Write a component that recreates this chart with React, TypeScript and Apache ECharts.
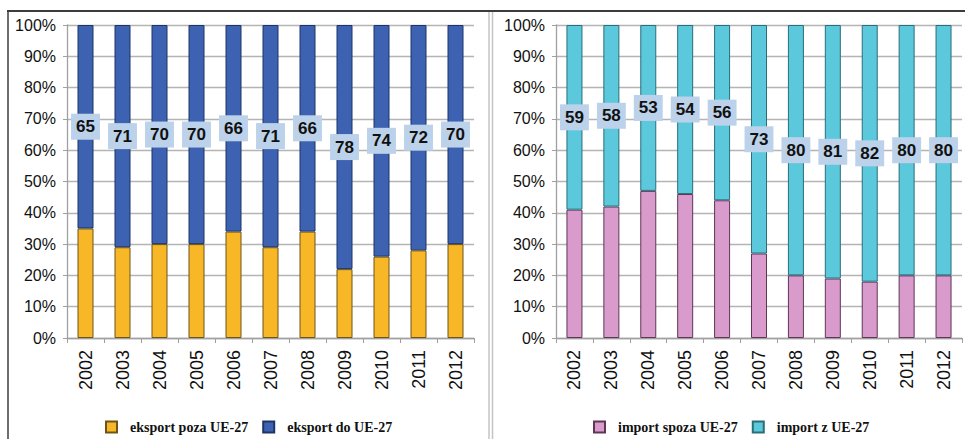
import React, { useEffect, useRef } from "react";
import * as echarts from "echarts";

const years = ["2002", "2003", "2004", "2005", "2006", "2007", "2008", "2009", "2010", "2011", "2012"];
const exportOutsideEU = [35, 29, 30, 30, 34, 29, 34, 22, 26, 28, 30];
const exportToEU = [65, 71, 70, 70, 66, 71, 66, 78, 74, 72, 70];
const importOutsideEU = [41, 42, 47, 46, 44, 27, 20, 19, 18, 20, 20];
const importFromEU = [59, 58, 53, 54, 56, 73, 80, 81, 82, 80, 80];

const seriesNames = ["eksport poza UE-27", "eksport do UE-27", "import spoza UE-27", "import z UE-27"];

export default function App() {
  const ref = useRef<HTMLDivElement>(null);

  useEffect(() => {
    if (!ref.current) return;
    const chart = echarts.init(ref.current, null, { renderer: "svg" });

    const axisFont = { fontFamily: "Liberation Sans, Arial, sans-serif", fontSize: 16, color: "#111" };
    const gridLine = { lineStyle: { color: "#b4b4b4", width: 1.3 } };

    const xAxisBase = (gridIndex: number) => ({
      type: "category" as const,
      gridIndex,
      data: years,
      axisLine: { lineStyle: { color: "#a0a0a0", width: 1.3 } },
      axisTick: { show: true, alignWithLabel: false, length: 5, lineStyle: { color: "#a0a0a0" } },
      axisLabel: { ...axisFont, fontSize: 18, rotate: 90, margin: 12 },
      splitLine: { show: false },
    });
    const yAxisBase = (gridIndex: number) => ({
      type: "value" as const,
      gridIndex,
      min: 0,
      max: 100,
      interval: 10,
      axisLine: { show: true, lineStyle: { color: "#a0a0a0", width: 1.3 } },
      axisTick: { show: true, length: 4, lineStyle: { color: "#a0a0a0" } },
      axisLabel: { ...axisFont, margin: 11, formatter: "{value}%" },
      splitLine: { show: true, ...gridLine },
    });

    const labelStyle = {
      show: true,
      position: "inside" as const,
      fontFamily: "Liberation Sans, Arial, sans-serif",
      fontSize: 17,
      fontWeight: "bold" as const,
      color: "#111",
      backgroundColor: "#bcd2ea",
      padding: [5, 5, 4, 5],
    };

    const legendText = {
      fontFamily: "Liberation Serif, Times New Roman, serif",
      fontWeight: "bold" as const,
      fontSize: 14,
      color: "#111",
      padding: [0, 0, 0, 8],
    };

    chart.setOption({
      animation: false,
      backgroundColor: "#ffffff",
      grid: [
        { left: 67, right: 491, top: 25, bottom: 101, containLabel: false },
        { left: 556, right: 3, top: 25, bottom: 101, containLabel: false },
      ],
      xAxis: [xAxisBase(0), xAxisBase(1)],
      yAxis: [yAxisBase(0), yAxisBase(1)],
      legend: [
        {
          data: [seriesNames[0], seriesNames[1]],
          left: 100,
          top: 415,
          itemWidth: 11,
          itemHeight: 11,
          itemGap: 14,
          icon: "rect",
          textStyle: legendText,
        },
        {
          data: [seriesNames[2], seriesNames[3]],
          left: 588,
          top: 415,
          itemWidth: 11,
          itemHeight: 11,
          itemGap: 14,
          icon: "rect",
          textStyle: legendText,
        },
      ],
      series: [
        {
          name: seriesNames[0],
          type: "bar",
          xAxisIndex: 0,
          yAxisIndex: 0,
          stack: "exp",
          barWidth: 16,
          data: exportOutsideEU,
          itemStyle: { color: "#f7b726", borderColor: "#6e5418", borderWidth: 1 },
        },
        {
          name: seriesNames[1],
          type: "bar",
          xAxisIndex: 0,
          yAxisIndex: 0,
          stack: "exp",
          barWidth: 16,
          data: exportToEU,
          itemStyle: { color: "#3c62b1", borderColor: "#1d3468", borderWidth: 1 },
          label: labelStyle,
        },
        {
          name: seriesNames[2],
          type: "bar",
          xAxisIndex: 1,
          yAxisIndex: 1,
          stack: "imp",
          barWidth: 16,
          data: importOutsideEU,
          itemStyle: { color: "#d89bcb", borderColor: "#5e3656", borderWidth: 1 },
        },
        {
          name: seriesNames[3],
          type: "bar",
          xAxisIndex: 1,
          yAxisIndex: 1,
          stack: "imp",
          barWidth: 16,
          data: importFromEU,
          itemStyle: { color: "#5bc8dc", borderColor: "#2a6e7a", borderWidth: 1 },
          label: labelStyle,
        },
      ],
      graphic: [
        { type: "line", shape: { x1: 7, y1: 11, x2: 965, y2: 11 }, style: { stroke: "#3c3c3c", lineWidth: 2 } },
        { type: "line", shape: { x1: 8, y1: 11, x2: 8, y2: 439 }, style: { stroke: "#3c3c3c", lineWidth: 1.5 } },
        { type: "line", shape: { x1: 489, y1: 12, x2: 489, y2: 439 }, style: { stroke: "#c4c4c4", lineWidth: 1.5 } },
        { type: "line", shape: { x1: 492.5, y1: 12, x2: 492.5, y2: 439 }, style: { stroke: "#c4c4c4", lineWidth: 1.5 } },
      ],
    });

    return () => chart.dispose();
  }, []);

  return <div ref={ref} style={{ position: "fixed", left: 0, top: 0, width: 965, height: 439 }} />;
}
